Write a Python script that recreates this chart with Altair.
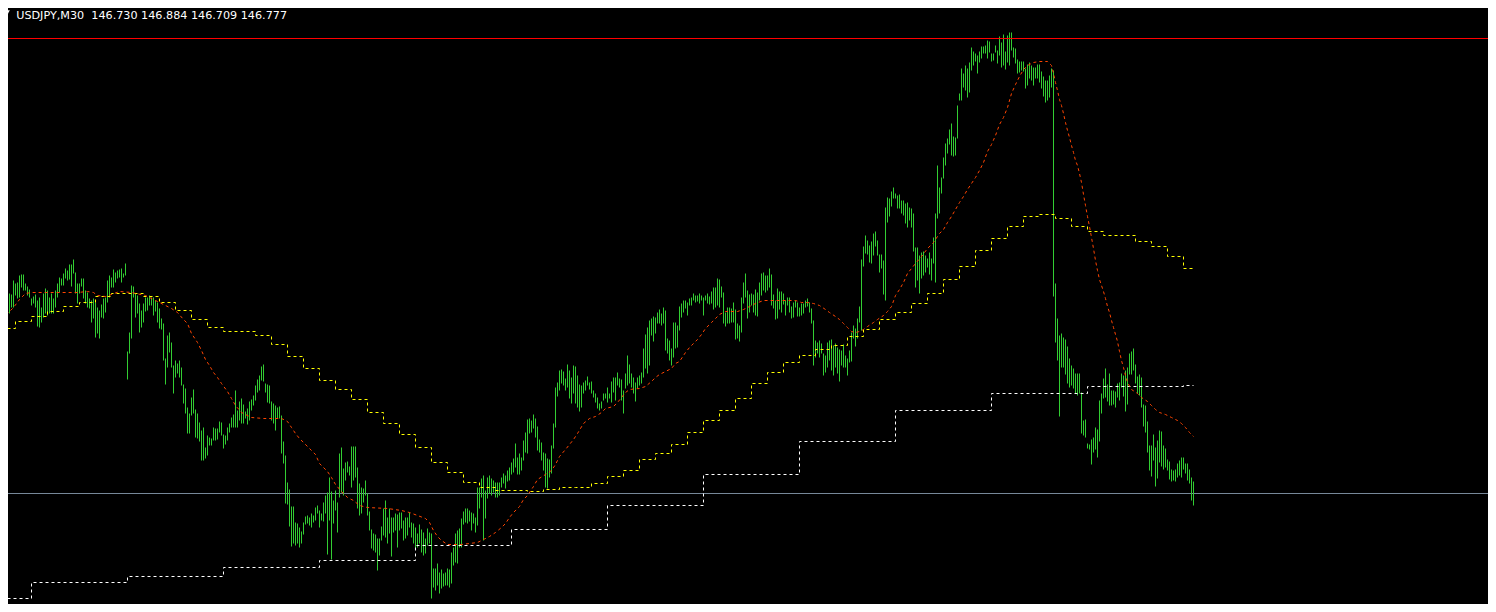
import altair as alt
import pandas as pd

TITLE = "USDJPY,M30 \u00a0146.730 146.884 146.709 146.777"

HIGH = [
148.83,148.86,148.77,148.80,148.77,148.76,148.90,148.87,148.88,148.95,
148.96,148.96,148.87,148.84,148.81,148.72,148.74,148.76,148.70,148.73,
148.63,148.77,148.82,148.80,148.73,148.77,148.72,148.80,148.87,148.93,
148.92,148.97,149.02,149.00,149.06,149.06,149.11,148.98,148.87,148.87,
148.92,148.92,148.80,148.78,148.72,148.70,148.72,148.68,148.63,148.60,
148.66,148.72,148.73,148.90,148.95,148.93,149.01,148.98,149.00,149.01,
149.02,148.97,149.07,148.19,148.38,148.85,148.84,148.77,148.75,148.67,
148.60,148.67,148.73,148.73,148.75,148.73,148.73,148.70,148.68,148.62,
148.52,148.47,148.12,148.35,148.38,148.28,148.05,148.10,148.07,148.10,
148.03,147.86,147.82,147.63,147.57,147.73,147.81,147.61,147.57,147.48,
147.40,147.43,147.23,147.35,147.33,147.32,147.43,147.42,147.42,147.49,
147.48,147.36,147.35,147.43,147.47,147.53,147.56,147.80,147.60,147.69,
147.72,147.66,147.59,147.62,147.69,147.71,147.75,147.85,147.91,147.95,
148.04,148.06,147.87,147.86,147.85,147.69,147.67,147.65,147.63,147.64,
147.55,147.29,147.15,146.88,146.81,146.64,146.64,146.48,146.47,146.43,
146.39,146.48,146.54,146.55,146.53,146.57,146.55,146.63,146.65,146.60,
146.57,146.68,146.75,146.78,146.93,146.79,146.70,146.80,146.68,147.17,
147.23,147.02,147.08,147.09,147.04,147.24,147.24,147.24,147.03,146.87,
146.83,146.82,146.90,146.77,146.59,146.41,146.37,146.36,146.32,146.32,
146.44,146.62,146.70,146.53,146.62,146.53,146.53,146.57,146.56,146.58,
146.58,146.50,146.53,146.53,146.58,146.48,146.47,146.43,146.37,146.46,
146.41,146.38,146.32,146.42,146.38,146.37,146.02,146.02,146.07,145.98,
146.01,145.97,145.98,146.02,146.01,146.18,146.23,146.37,146.40,146.42,
146.52,146.59,146.62,146.62,146.60,146.58,146.57,146.53,146.83,146.83,
146.92,146.95,146.80,146.93,146.95,146.92,146.90,146.88,146.88,146.88,
146.93,146.97,146.95,147.00,147.03,147.08,147.12,147.27,147.13,147.17,
147.13,147.30,147.38,147.51,147.52,147.50,147.56,147.52,147.44,147.31,
147.28,147.18,147.17,147.12,147.11,147.25,147.47,147.83,147.88,148.00,
148.01,147.99,147.92,148.06,148.00,147.93,148.05,148.04,147.95,147.86,
147.85,147.88,147.90,147.94,147.88,147.89,147.80,147.77,147.73,147.67,
147.69,147.77,147.77,147.83,147.77,147.89,147.93,147.93,147.98,147.92,
147.91,147.80,147.97,148.15,148.06,147.97,147.93,147.88,147.93,147.95,
147.98,148.22,148.36,148.43,148.50,148.52,148.54,148.53,148.58,148.61,
148.57,148.63,148.60,148.32,148.30,148.22,148.48,148.48,148.45,148.64,
148.67,148.70,148.70,148.68,148.72,148.73,148.77,148.75,148.75,148.77,
148.75,148.73,148.75,148.77,148.74,148.79,148.83,148.83,148.92,148.91,
148.84,148.78,148.58,148.63,148.63,148.62,148.68,148.61,148.47,148.45,
148.73,148.88,148.97,148.80,148.76,148.77,148.76,148.81,148.78,148.88,
148.97,148.98,148.95,148.95,149.02,148.96,148.76,148.70,148.82,148.79,
148.79,148.77,148.70,148.73,148.73,148.64,148.68,148.70,148.68,148.63,
148.67,148.67,148.70,148.72,148.68,148.62,148.50,148.30,148.28,148.30,
148.27,148.17,148.15,148.28,148.30,148.31,148.25,148.27,148.23,148.21,
148.20,148.26,148.15,148.12,148.20,148.38,148.45,148.42,148.52,148.64,
149.11,149.24,149.35,149.30,149.25,149.29,149.37,149.39,149.30,149.16,
149.16,149.10,149.63,149.73,149.72,149.79,149.83,149.77,149.75,149.76,
149.70,149.70,149.67,149.68,149.63,149.62,149.57,149.23,149.23,149.15,
149.18,149.19,149.15,149.12,149.18,149.12,149.33,149.57,150.05,149.83,
149.93,150.13,150.27,150.32,150.41,150.47,150.34,150.33,150.65,150.77,
151.02,150.97,151.05,151.02,151.08,151.23,151.19,151.17,151.15,151.19,
151.24,151.24,151.25,151.30,151.29,151.17,151.17,151.25,151.20,151.34,
151.28,151.36,151.19,151.35,151.38,151.38,151.23,151.22,151.11,151.09,
151.09,151.09,151.02,151.06,151.08,151.05,151.03,151.03,151.06,151.06,
150.99,150.94,150.90,150.90,150.95,151.02,151.00,148.87,148.52,148.35,
148.37,148.33,148.31,148.24,148.12,148.05,148.02,147.97,147.97,147.97,
147.78,147.50,147.51,147.27,147.26,147.31,147.33,147.43,147.41,147.70,
147.77,147.92,148.02,147.86,147.97,147.80,147.80,147.79,147.87,147.88,
147.97,147.95,148.00,148.03,148.17,148.19,148.22,148.06,147.94,147.96,
147.93,147.66,147.65,147.49,147.25,147.25,147.36,147.23,147.30,147.40,
147.39,147.25,147.22,147.11,147.09,147.01,147.00,147.01,147.07,147.10,
147.13,147.13,147.07,147.07,147.01,146.93,146.89,
]

LOW = [
148.57,148.57,148.53,148.62,148.57,148.63,148.63,148.75,148.72,148.73,
148.83,148.80,148.80,148.75,148.73,148.65,148.67,148.63,148.44,148.43,
148.48,148.53,148.57,148.55,148.57,148.57,148.57,148.63,148.73,148.78,
148.85,148.85,148.92,148.90,148.91,148.84,148.97,148.77,148.67,148.77,
148.84,148.72,148.67,148.63,148.62,148.48,148.52,148.33,148.37,148.32,
148.53,148.52,148.58,148.68,148.73,148.83,148.83,148.88,148.92,148.93,
148.88,148.93,148.95,147.91,148.17,148.32,148.73,148.53,148.57,148.38,
148.43,148.48,148.59,148.60,148.65,148.65,148.55,148.59,148.48,148.42,
148.41,148.10,147.86,148.03,148.18,148.03,147.77,147.93,147.97,147.93,
147.85,147.67,147.57,147.37,147.37,147.55,147.57,147.33,147.32,147.29,
147.10,147.10,147.12,147.15,147.25,147.25,147.30,147.30,147.31,147.38,
147.35,147.22,147.26,147.30,147.38,147.43,147.43,147.43,147.43,147.50,
147.47,147.47,147.52,147.46,147.50,147.60,147.65,147.70,147.78,147.80,
147.90,147.89,147.78,147.68,147.67,147.50,147.47,147.40,147.52,147.52,
147.17,147.07,146.67,146.66,146.44,146.24,146.27,146.25,146.27,146.23,
146.27,146.36,146.46,146.47,146.45,146.43,146.48,146.50,146.57,146.43,
146.50,146.49,146.57,146.16,146.50,146.11,146.47,146.60,146.38,146.73,
146.78,146.75,146.90,146.98,146.95,146.83,146.90,146.93,146.62,146.55,
146.57,146.68,146.75,146.55,146.40,146.22,146.20,146.18,146.00,146.15,
146.30,146.35,146.33,146.27,146.37,146.14,146.38,146.40,146.23,146.40,
146.42,146.30,146.32,146.35,146.43,146.33,146.27,146.22,146.23,146.27,
146.18,146.15,146.17,146.25,146.27,145.72,145.83,145.80,145.85,145.77,
145.82,145.84,145.85,145.85,145.83,145.87,146.05,146.08,146.07,146.23,
146.23,146.46,146.48,146.47,146.49,146.40,146.47,146.38,146.45,146.62,
146.73,146.30,146.52,146.72,146.77,146.75,146.78,146.73,146.73,146.75,
146.83,146.87,146.82,146.89,146.90,146.96,146.98,147.03,146.96,146.96,
147.00,147.10,147.18,147.17,147.37,147.38,147.42,147.33,147.20,147.18,
147.10,147.00,146.83,146.82,146.93,146.97,147.22,147.43,147.74,147.80,
147.87,147.85,147.80,147.83,147.72,147.67,147.77,147.67,147.63,147.59,
147.63,147.77,147.80,147.85,147.81,147.77,147.73,147.68,147.62,147.60,
147.62,147.70,147.72,147.68,147.72,147.68,147.78,147.70,147.85,147.83,
147.70,147.57,147.82,147.85,147.87,147.83,147.77,147.69,147.82,147.85,
147.87,147.93,148.02,147.97,148.05,148.35,148.29,148.37,148.47,148.47,
148.45,148.47,148.20,148.17,148.10,148.05,148.13,148.22,148.23,148.40,
148.53,148.58,148.62,148.55,148.65,148.65,148.70,148.68,148.69,148.67,
148.70,148.55,148.70,148.67,148.66,148.67,148.61,148.63,148.65,148.63,
148.73,148.47,148.44,148.47,148.47,148.48,148.48,148.31,148.32,148.29,
148.38,148.67,148.73,148.52,148.58,148.65,148.58,148.55,148.54,148.70,
148.75,148.80,148.78,148.80,148.83,148.65,148.62,148.51,148.52,148.61,
148.58,148.66,148.55,148.65,148.58,148.52,148.53,148.63,148.54,148.54,
148.55,148.57,148.63,148.64,148.58,148.47,148.05,148.13,148.17,148.13,
148.17,147.95,147.98,148.03,148.10,148.00,147.95,148.03,147.97,147.89,
148.05,148.03,148.03,147.95,148.08,148.09,148.32,148.24,148.32,148.48,
148.40,149.04,149.17,149.16,149.08,149.07,149.15,149.24,149.15,148.98,
149.02,148.76,148.70,149.48,149.54,149.64,149.72,149.72,149.62,149.62,
149.57,149.55,149.47,149.43,149.50,149.43,149.19,148.83,148.90,148.77,
148.92,148.95,148.98,149.03,148.96,148.90,149.07,148.88,149.52,149.57,
149.77,149.92,150.05,150.17,150.26,150.15,150.14,150.15,150.32,150.70,
150.70,150.83,150.80,150.73,150.78,151.00,151.05,151.09,150.97,151.08,
151.12,151.17,151.17,151.12,151.18,151.09,151.10,151.18,151.07,151.15,
151.03,151.05,151.01,151.08,151.05,151.20,151.13,151.07,150.97,150.98,
151.00,150.99,150.82,150.85,150.92,150.90,150.85,150.92,150.92,150.88,
150.82,150.74,150.68,150.70,150.73,150.83,148.74,148.28,148.10,147.54,
148.03,148.03,147.96,147.87,147.83,147.85,147.82,147.77,147.75,147.77,
147.37,147.35,147.33,147.22,147.21,147.06,147.18,147.21,147.13,147.29,
147.57,147.72,147.73,147.69,147.65,147.65,147.66,147.63,147.73,147.70,
147.83,147.74,147.59,147.66,147.96,147.96,148.00,147.87,147.77,147.75,
147.63,147.44,147.38,147.18,147.00,146.94,147.10,146.84,146.92,147.08,
147.04,147.01,147.03,147.00,146.91,146.89,146.90,146.89,146.93,146.95,
146.93,147.01,146.97,146.90,146.87,146.70,146.65,
]

MA_BAR = [
0,3,6,9,12,15,22,38,43,46,48,52,55,59,65,72,77,82,85,88,
91,93,95,98,100,102,104,106,108,110,113,115,117,120,122,125,131,140,143,145,
147,149,151,153,155,157,159,161,163,165,167,170,173,176,179,183,193,200,204,208,
212,214,216,218,220,223,230,238,241,244,247,250,252,254,256,259,261,263,266,268,
272,275,277,279,282,284,286,288,291,294,297,300,302,306,308,310,312,314,319,322,
325,327,329,332,335,337,339,342,344,346,348,350,352,355,357,359,362,368,371,374,
377,381,397,400,403,406,409,412,414,417,419,421,423,425,427,429,431,433,436,438,
441,443,445,447,449,451,453,455,457,460,463,466,469,471,473,475,477,479,481,483,
485,487,489,491,493,495,497,499,501,503,505,507,509,511,513,516,519,523,525,526,
527,528,529,530,531,532,533,534,535,536,537,538,539,540,541,542,543,544,545,546,
547,548,549,550,551,552,553,554,555,556,557,558,559,560,561,562,563,565,568,570,
573,575,577,579,582,585,588,590,592,594,596,
]
MA_VAL = [
148.52,148.57,148.63,148.71,148.77,148.78,148.78,148.78,148.79,148.78,148.75,148.74,148.76,148.79,148.78,148.75,148.70,148.65,148.62,148.58,
148.51,148.47,148.37,148.28,148.20,148.11,148.05,147.98,147.93,147.87,147.79,147.72,147.65,147.58,147.56,147.53,147.52,147.52,147.49,147.43,
147.37,147.32,147.28,147.24,147.20,147.16,147.07,147.03,146.99,146.93,146.86,146.79,146.73,146.70,146.65,146.63,146.62,146.60,146.58,146.55,
146.52,146.48,146.40,146.34,146.30,146.26,146.26,146.28,146.31,146.34,146.38,146.43,146.47,146.53,146.58,146.64,146.71,146.75,146.84,146.91,
146.96,147.00,147.06,147.14,147.21,147.26,147.31,147.37,147.47,147.52,147.54,147.58,147.62,147.64,147.68,147.73,147.78,147.81,147.82,147.84,
147.89,147.93,147.96,147.99,148.02,148.07,148.09,148.18,148.23,148.27,148.31,148.36,148.42,148.48,148.52,148.56,148.59,148.59,148.61,148.64,
148.67,148.70,148.70,148.68,148.68,148.67,148.65,148.61,148.58,148.54,148.51,148.47,148.43,148.39,148.38,148.39,148.41,148.44,148.48,148.51,
148.55,148.59,148.64,148.75,148.81,148.88,148.97,149.02,149.07,149.14,149.22,149.28,149.37,149.41,149.48,149.54,149.61,149.68,149.74,149.81,
149.87,149.93,150.00,150.08,150.19,150.26,150.35,150.46,150.53,150.63,150.77,150.86,150.94,151.01,151.05,151.08,151.09,151.09,151.05,150.97,
150.88,150.80,150.71,150.65,150.57,150.48,150.40,150.33,150.25,150.18,150.10,150.05,149.97,149.88,149.76,149.65,149.54,149.44,149.33,149.22,
149.10,149.00,148.91,148.85,148.79,148.72,148.64,148.58,148.50,148.43,148.36,148.29,148.19,148.10,148.03,147.95,147.88,147.81,147.77,147.73,
147.69,147.65,147.61,147.58,147.56,147.53,147.50,147.47,147.43,147.38,147.34,
]

YEL_BAR = [
0,7,15,23,31,39,47,55,63,71,79,87,95,103,111,119,127,135,143,151,
159,167,175,183,191,199,207,215,223,231,239,247,255,263,271,279,287,295,303,311,
319,327,335,343,351,359,367,375,383,391,399,407,415,423,431,439,447,455,463,471,
479,487,495,503,511,519,527,535,543,551,559,567,575,583,591,596,
]
YEL_VAL = [
148.42,148.49,148.54,148.59,148.64,148.68,148.74,148.77,148.77,148.74,148.68,148.60,148.51,148.43,148.39,148.39,148.35,148.26,148.14,148.02,
147.90,147.81,147.71,147.58,147.47,147.36,147.23,147.08,146.98,146.88,146.83,146.80,146.80,146.79,146.81,146.83,146.83,146.87,146.94,147.00,
147.11,147.17,147.26,147.38,147.50,147.60,147.72,147.87,147.98,148.08,148.15,148.21,148.25,148.34,148.41,148.51,148.58,148.67,148.77,148.91,
149.04,149.20,149.32,149.44,149.54,149.56,149.52,149.44,149.39,149.35,149.35,149.29,149.24,149.14,149.02,149.02,
]

WHT_BAR = [0,15,63,111,159,207,255,303,351,399,447,495,543,591,596]
WHT_VAL = [145.72,145.88,145.94,146.03,146.10,146.25,146.41,146.65,146.96,147.29,147.60,147.77,147.84,147.85,147.85]

LEVEL_RED = 151.32
BID = 146.77

n = min(len(HIGH), len(LOW))
bars = pd.DataFrame({"bar": list(range(n)), "high": HIGH[:n], "low": LOW[:n]})
ma = pd.DataFrame({"bar": MA_BAR, "v": MA_VAL})
yel = pd.DataFrame({"bar": YEL_BAR, "v": YEL_VAL})
wht = pd.DataFrame({"bar": WHT_BAR, "v": WHT_VAL})

W, H = 1480, 596
xs = alt.Scale(domain=[3.25, 743.25], nice=False, zero=False)
ys = alt.Scale(domain=[145.665, 151.625], nice=False, zero=False)

bid = alt.Chart(pd.DataFrame({"p": [BID]})).mark_rule(
    color="#778899", strokeWidth=1
).encode(y=alt.Y("p:Q", scale=ys, axis=None))

level = alt.Chart(pd.DataFrame({"p": [LEVEL_RED]})).mark_rule(
    color="#FF0000", strokeWidth=1
).encode(y=alt.Y("p:Q", scale=ys, axis=None))

ohlc = alt.Chart(bars).mark_rule(color="#32CD32", strokeWidth=1, clip=True).encode(
    x=alt.X("bar:Q", scale=xs, axis=None),
    y=alt.Y("low:Q", scale=ys, axis=None),
    y2="high:Q",
)

def dotted(df, color, interp):
    return alt.Chart(df).mark_line(
        color=color, strokeWidth=1, strokeDash=[3, 3], interpolate=interp, clip=True
    ).encode(
        x=alt.X("bar:Q", scale=xs, axis=None),
        y=alt.Y("v:Q", scale=ys, axis=None),
    )

white_line = dotted(wht, "#FFFFFF", "step-after")
yellow_line = dotted(yel, "#FFFF00", "step-after")
red_line = dotted(ma, "#FF4500", "linear")

title = alt.Chart(pd.DataFrame({"t": [TITLE]})).mark_text(
    align="left", baseline="alphabetic", font="DejaVu Sans", fontSize=11.2, color="#FFFFFF"
).encode(x=alt.value(8.2), y=alt.value(11), text="t:N")

tri = alt.Chart(pd.DataFrame({"t": [TITLE]})).mark_point(
    shape="triangle-down", filled=True, color="#FFFFFF", size=40, opacity=1
).encode(x=alt.value(-1.3), y=alt.value(5))

chart = alt.layer(
    bid, ohlc, white_line, yellow_line, red_line, level, title, tri
).properties(
    width=W, height=H, background="#000000", padding=0,
    autosize=alt.AutoSizeParams(type="none"),
).configure_view(stroke=None)

chart.save("out.html", embed_options={"renderer": "svg", "actions": False})
